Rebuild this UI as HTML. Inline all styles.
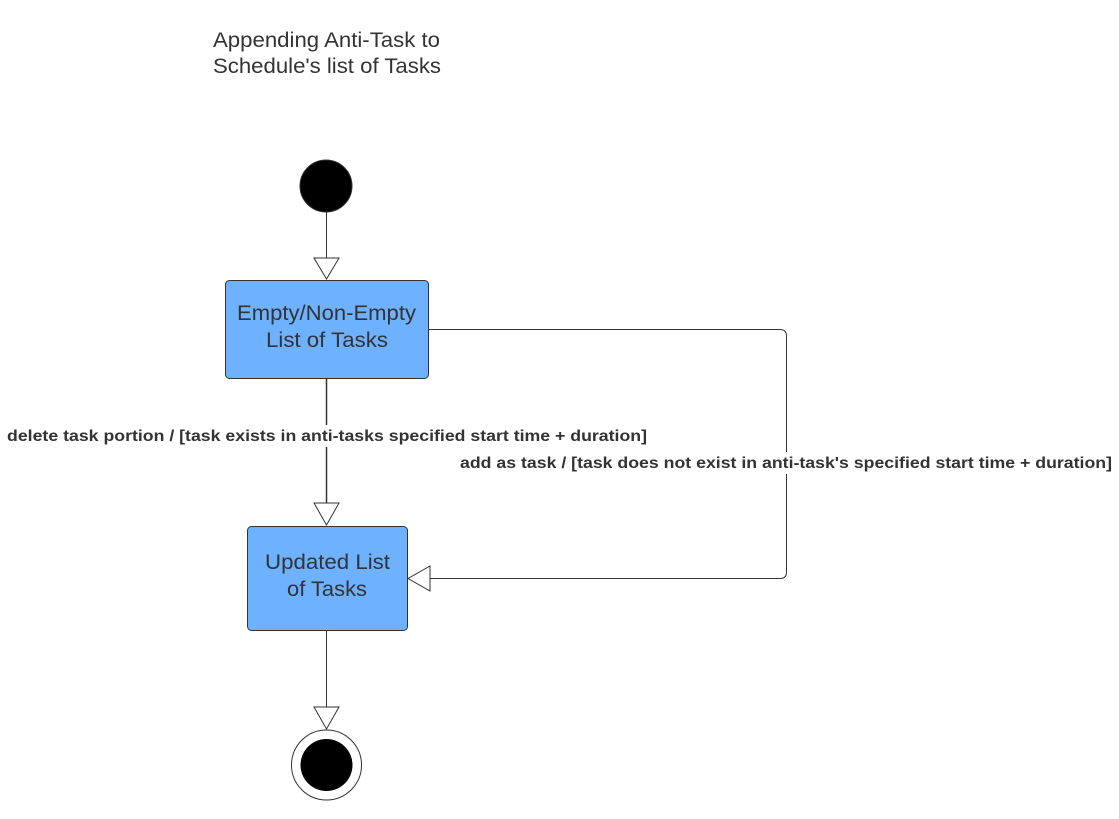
<!DOCTYPE html>
<html><head><style>
body{margin:0;background:#fff;}
</style></head><body>
<svg width="1119" height="819" viewBox="0 0 1119 819" xmlns="http://www.w3.org/2000/svg" style="display:block">
<rect width="1119" height="819" fill="#fff"/>
<g font-family="Liberation Sans, sans-serif" fill="#333">
<text x="213" y="47" font-size="21" textLength="227" lengthAdjust="spacingAndGlyphs">Appending Anti-Task to</text>
<text x="213" y="73" font-size="21" textLength="228" lengthAdjust="spacingAndGlyphs">Schedule's list of Tasks</text>
</g>
<circle cx="326" cy="186" r="26" fill="#000" stroke="#333" stroke-width="1"/>
<g stroke="#333" stroke-width="1" fill="none">
<line x1="326.5" y1="212" x2="326.5" y2="258"/>
<polygon points="314,258 339,258 326.5,279" fill="#fff"/>
<line x1="326.5" y1="378" x2="326.5" y2="503" stroke-width="1.5"/>
<polygon points="314,503 339,503 326.5,525" fill="#fff"/>
<path d="M428 329.5 H780 Q786.5 329.5 786.5 336 V572 Q786.5 578.5 780 578.5 H430"/>
<polygon points="430,566 430,591 408,578.5" fill="#fff"/>
<line x1="326.5" y1="630" x2="326.5" y2="707"/>
<polygon points="314,707 339,707 326.5,729" fill="#fff"/>
<circle cx="326.5" cy="765" r="35" fill="#fff"/>
</g>
<circle cx="326.5" cy="765" r="26" fill="#000"/>
<rect x="225.5" y="280.5" width="203" height="98" rx="4" fill="#6db1ff" stroke="#333"/>
<g font-family="Liberation Sans, sans-serif" font-size="21" fill="#333">
<text x="237" y="320" textLength="179" lengthAdjust="spacingAndGlyphs">Empty/Non-Empty</text>
<text x="266" y="347" textLength="122" lengthAdjust="spacingAndGlyphs">List of Tasks</text>
</g>
<rect x="247.5" y="526.5" width="160" height="104" rx="4" fill="#6db1ff" stroke="#333"/>
<g font-family="Liberation Sans, sans-serif" font-size="21" fill="#333">
<text x="265" y="569" textLength="125" lengthAdjust="spacingAndGlyphs">Updated List</text>
<text x="287" y="596" textLength="80" lengthAdjust="spacingAndGlyphs">of Tasks</text>
</g>
<rect x="5" y="425" width="644" height="22" fill="#fff"/>
<text x="7" y="441" font-family="Liberation Sans, sans-serif" font-size="16" font-weight="bold" fill="#333" textLength="640" lengthAdjust="spacingAndGlyphs">delete task portion / [task exists in anti-tasks specified start time + duration]</text>
<rect x="458" y="452" width="656" height="22" fill="#fff"/>
<text x="460" y="468" font-family="Liberation Sans, sans-serif" font-size="16" font-weight="bold" fill="#333" textLength="652" lengthAdjust="spacingAndGlyphs">add as task / [task does not exist in anti-task's specified start time + duration]</text>
</svg>
</body></html>
